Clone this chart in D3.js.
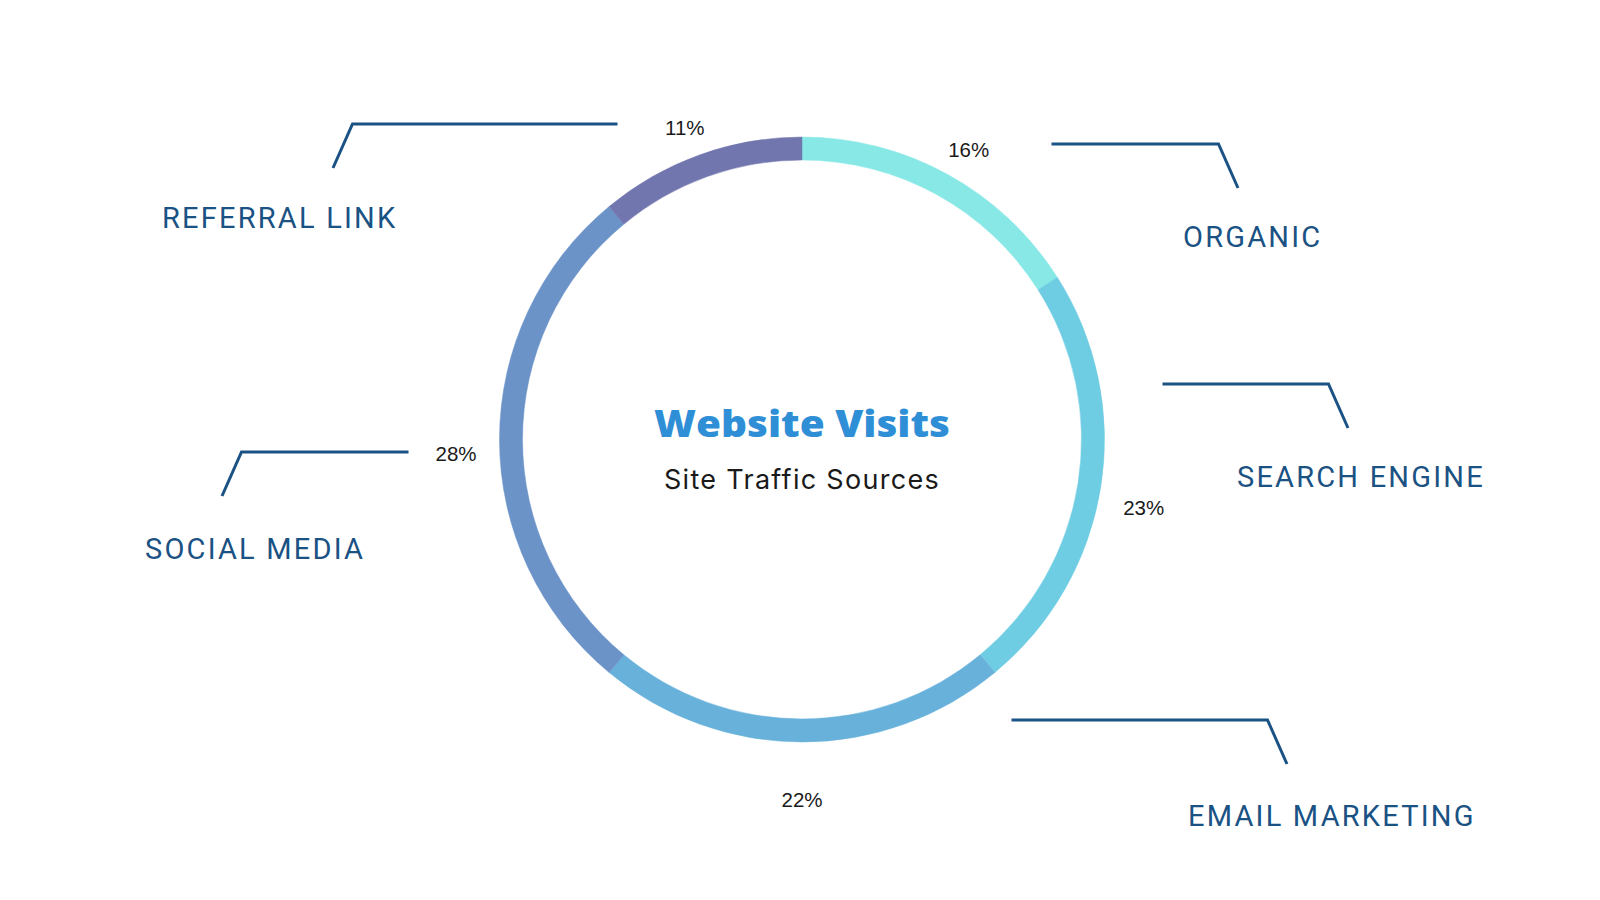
<!DOCTYPE html>
<html>
<head>
<meta charset="utf-8">
<script src="https://cdn.jsdelivr.net/npm/d3@7"></script>
<style>
  html, body { margin: 0; padding: 0; background: #ffffff; }
  svg { display: block; }
</style>
</head>
<body>
<div id="chart"></div>
<script>
// chart data
var sources = ["ORGANIC", "SEARCH ENGINE", "EMAIL MARKETING", "SOCIAL MEDIA", "REFERRAL LINK"];
var shares = [16, 23, 22, 28, 11];
var sliceColors = ["#88e8e6", "#6fcde3", "#67b1da", "#6b93c8", "#7276ae"];

var title = "Website Visits";
var subtitle = "Site Traffic Sources";

// callout layout (label position, leader line foot + length), same order as sources
var callouts = [
  { labelX: 1183, labelY: 247, footX: 1238, footY: 188, run: -167 },
  { labelX: 1237, labelY: 487, footX: 1348, footY: 428, run: -166 },
  { labelX: 1188, labelY: 826, footX: 1287, footY: 764, run: -256 },
  { labelX: 145,  labelY: 559, footX: 222,  footY: 496, run: 167 },
  { labelX: 162,  labelY: 228, footX: 333,  footY: 168, run: 265 }
];

var svgWidth = 1600;
var svgHeight = 900;
var cx = 802, cy = 439.5;
var outerR = 302.5, innerR = 279.5;
var labelR = 346;

var svg = d3.select("#chart")
  .append("svg")
  .attr("width", svgWidth)
  .attr("height", svgHeight);

var donut = svg.append("g")
  .attr("transform", `translate(${cx}, ${cy})`);

var pie = d3.pie()
  .value(d => d.value)
  .sort(null);

var table = sources.map((s, i) => ({ name: s, value: shares[i], color: sliceColors[i], callout: callouts[i] }));
var arcs = pie(table);

var arc = d3.arc()
  .innerRadius(innerR)
  .outerRadius(outerR);

var labelArc = d3.arc()
  .innerRadius(labelR)
  .outerRadius(labelR);

donut.selectAll("path.slice")
  .data(arcs)
  .enter()
  .append("path")
  .attr("class", "slice")
  .attr("d", arc)
  .attr("fill", d => d.data.color)
  .attr("stroke", d => d.data.color)
  .attr("stroke-width", 0.5);

// percent labels
donut.selectAll("text.pct")
  .data(arcs)
  .enter()
  .append("text")
  .attr("class", "pct")
  .attr("x", d => labelArc.centroid(d)[0])
  .attr("y", d => labelArc.centroid(d)[1] + 21)
  .attr("text-anchor", "middle")
  .attr("font-family", "Liberation Sans, Arial, sans-serif")
  .attr("font-size", "20.5px")
  .attr("fill", "#1a1a1a")
  .text(d => d.data.value + "%");

// center text
donut.append("text")
  .attr("x", 0)
  .attr("y", -2.5)
  .attr("text-anchor", "middle")
  .attr("font-family", "Open Sans, sans-serif")
  .attr("font-weight", 800)
  .attr("font-size", "37px")
  .attr("textLength", 296)
  .attr("lengthAdjust", "spacingAndGlyphs")
  .attr("fill", "#2f8fd6")
  .text(title);

donut.append("text")
  .attr("x", 0)
  .attr("y", 49.5)
  .attr("text-anchor", "middle")
  .attr("font-family", "Inter, sans-serif")
  .attr("font-size", "27px")
  .attr("letter-spacing", "1.3px")
  .attr("fill", "#1a1a1a")
  .text(subtitle);

// callouts
var calloutGroup = svg.append("g");

calloutGroup.selectAll("path.leader")
  .data(table)
  .enter()
  .append("path")
  .attr("class", "leader")
  .attr("d", d => {
    var c = d.callout;
    var dir = c.run > 0 ? 1 : -1;
    var kx = c.footX + dir * 19.5;
    var ky = c.footY - 44;
    return d3.line()([[c.footX, c.footY], [kx, ky], [kx + c.run, ky]]);
  })
  .attr("fill", "none")
  .attr("stroke", "#1b5284")
  .attr("stroke-width", 3);

calloutGroup.selectAll("text.source")
  .data(table)
  .enter()
  .append("text")
  .attr("class", "source")
  .attr("x", d => d.callout.labelX)
  .attr("y", d => d.callout.labelY)
  .attr("font-family", "Roboto, sans-serif")
  .attr("font-size", "29px")
  .attr("letter-spacing", "2.2px")
  .attr("fill", "#1b5284")
  .text(d => d.name);
</script>
</body>
</html>
